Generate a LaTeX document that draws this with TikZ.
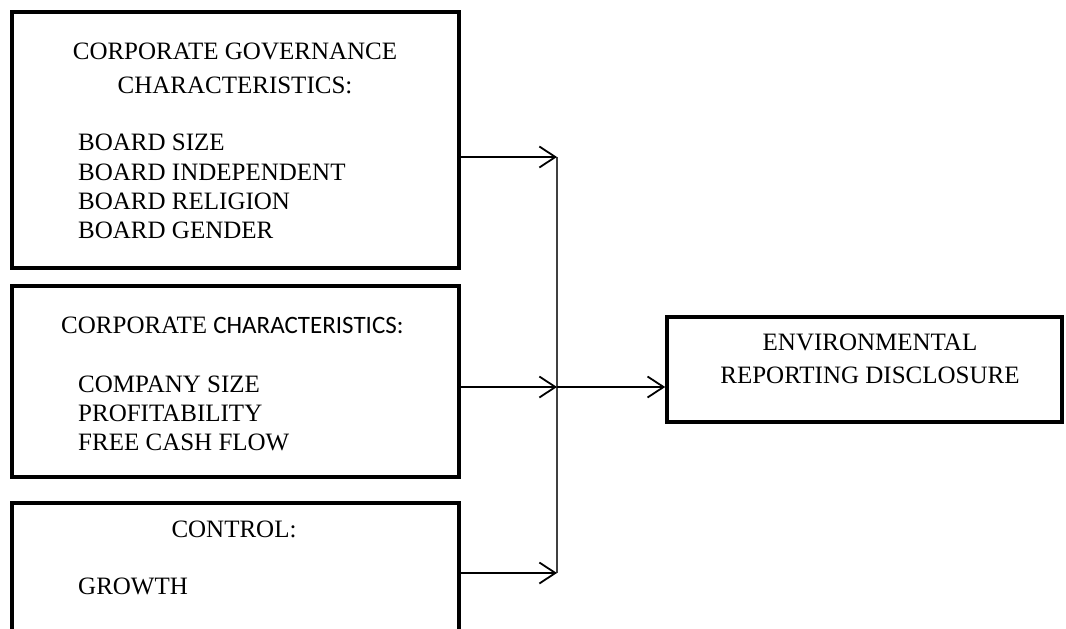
\documentclass[tikz,border=0pt]{standalone}
\usepackage{fontspec}
\setmainfont{Liberation Serif}
\newfontfamily\calfont{Carlito}
\usetikzlibrary{arrows.meta}
\begin{document}
\begin{tikzpicture}[x=1pt,y=-1pt,
  box/.style={draw=black,line width=3.6pt,rectangle,inner sep=0pt,fill=none},
  txt/.style={inner sep=0pt,anchor=base,font=\fontsize{25}{28.7}\selectfont},
  ltxt/.style={txt,anchor=base west},
  arr/.style={line width=1.8pt,-{Straight Barb[length=16pt,width=21pt,line width=1.8pt]}},
  bus/.style={line width=1.4pt,draw=black!75}]
\useasboundingbox (0,0) rectangle (1066,629);
\clip (0,0) rectangle (1066,629);
\fill[white] (0,0) rectangle (1066,629);
% boxes
\node[box,minimum width=447pt,minimum height=256pt] (b1) at (235.5,140) {};
\node[box,minimum width=447pt,minimum height=191pt] (b2) at (235.5,381.5) {};
\node[box,minimum width=447pt,minimum height=157pt] (b3) at (235.5,581.5) {};
\node[box,minimum width=395pt,minimum height=105pt] (rb) at (864.5,369.5) {};
% texts
\node[txt] (t1a) at (235,59) {CORPORATE GOVERNANCE};
\node[txt] (t1b) at (235,93) {CHARACTERISTICS:};
\node[ltxt] (t1c) at (78,150) {BOARD SIZE};
\node[ltxt] (t1d) at (78,180) {BOARD INDEPENDENT};
\node[ltxt] (t1e) at (78,209) {BOARD RELIGION};
\node[ltxt] (t1f) at (78,238) {BOARD GENDER};
\node[ltxt] (t2a) at (61,333) {CORPORATE {\calfont CHARACTERISTICS:}};
\node[ltxt] (t2b) at (78,392) {COMPANY SIZE};
\node[ltxt] (t2c) at (78,421) {PROFITABILITY};
\node[ltxt] (t2d) at (78,450) {FREE CASH FLOW};
\node[txt] (t3a) at (234,537) {CONTROL:};
\node[ltxt] (t3b) at (78,594) {GROWTH};
\node[txt] (r1) at (870,350) {ENVIRONMENTAL};
\node[txt] (r2) at (870,383) {REPORTING DISCLOSURE};
% bus
\coordinate (v1) at (557,157);
\coordinate (v2) at (557,387);
\coordinate (v3) at (557,573);
\draw[bus] (v1) -- (v3);
% arrows
\draw[arr] (b1.east |- v1) -- (v1);
\draw[arr] (b2.east |- v2) -- (v2);
\draw[arr] (b3.east |- v3) -- (v3);
\draw[arr] (v2) -- (rb.west |- v2);
\end{tikzpicture}
\end{document}
